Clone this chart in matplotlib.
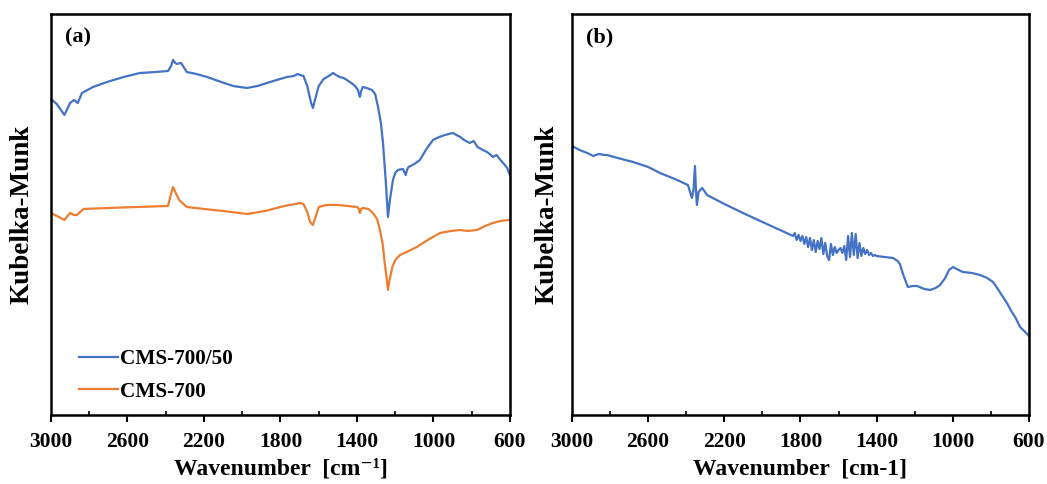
import matplotlib.pyplot as plt

plt.rcParams['font.family'] = ['Liberation Serif', 'DejaVu Serif']
plt.rcParams['font.weight'] = 'bold'

# panel (a), CMS-700/50
wn_a50 = [3000, 2970, 2930, 2900, 2880, 2860, 2838, 2780, 2707, 2620,
          2535, 2450, 2388, 2372, 2362, 2350, 2342, 2320, 2290, 2240,
          2184, 2110, 2048, 1975, 1920, 1871, 1820, 1766, 1730, 1710,
          1698, 1680, 1660, 1640, 1630, 1620, 1600, 1575, 1556, 1540,
          1525, 1510, 1490, 1470, 1453, 1430, 1410, 1395, 1385, 1378,
          1370, 1350, 1322, 1305, 1290, 1275, 1264, 1250, 1238, 1228,
          1212, 1200, 1186, 1160, 1145, 1139, 1130, 1100, 1071, 1040,
          1003, 970, 940, 920, 898, 880, 860, 840, 811, 790,
          770, 742, 720, 700, 690, 670, 650, 627, 615, 605,
          600]
km_a50 = [316, 311, 300, 312, 315, 312, 322, 328, 333, 338,
          342, 343, 344, 349, 355, 352, 351, 352, 343, 341,
          338, 333, 329, 327, 329, 332, 335, 338, 339, 341,
          340, 339, 329, 312, 307, 315, 329, 336, 338, 340,
          342, 340, 338, 337, 335, 332, 329, 325, 318, 324,
          328, 327, 325, 321, 308, 292, 272, 235, 198, 215,
          235, 242, 245, 246, 240, 245, 248, 251, 255, 265,
          275, 278, 280, 281, 282, 280, 278, 275, 272, 274,
          268, 265, 263, 260, 258, 260, 255, 250, 247, 242,
          240]

# panel (a), CMS-700
wn_a = [3000, 2970, 2930, 2900, 2880, 2865, 2830, 2700, 2550, 2388,
        2375, 2362, 2350, 2330, 2290, 2200, 2100, 1975, 1880, 1780,
        1720, 1698, 1680, 1660, 1645, 1630, 1615, 1600, 1560, 1500,
        1450, 1400, 1390, 1385, 1378, 1370, 1340, 1317, 1295, 1280,
        1265, 1255, 1245, 1238, 1230, 1215, 1200, 1175, 1140, 1087,
        1030, 966, 910, 862, 820, 773, 730, 690, 650, 605,
        600]
km_a = [202, 199, 195, 202, 200, 200, 206, 207, 208, 209,
        219, 228, 223, 215, 208, 206, 204, 201, 204, 209,
        211, 212, 211, 203, 193, 190, 199, 208, 210, 210,
        209, 208, 206, 202, 206, 207, 206, 202, 196, 185,
        170, 152, 137, 125, 135, 148, 155, 160, 163, 168,
        175, 182, 184, 185, 184, 185, 189, 192, 194, 195,
        196]

# panel (b)
wn_b = [3000, 2960, 2920, 2888, 2860, 2830, 2816, 2760, 2679, 2600,
        2538, 2460, 2391, 2380, 2370, 2362, 2354, 2349, 2344, 2335,
        2317, 2305, 2291, 2200, 2102, 2000, 1908, 1850, 1840, 1830,
        1820, 1810, 1800, 1790, 1780, 1770, 1760, 1750, 1740, 1730,
        1720, 1710, 1700, 1690, 1680, 1670, 1660, 1650, 1640, 1630,
        1620, 1610, 1600, 1590, 1580, 1570, 1560, 1550, 1540, 1530,
        1520, 1510, 1500, 1490, 1480, 1470, 1460, 1450, 1440, 1430,
        1420, 1410, 1400, 1360, 1314, 1290, 1278, 1260, 1236, 1210,
        1188, 1150, 1120, 1090, 1067, 1040, 1020, 999, 980, 947,
        900, 857, 820, 789, 760, 740, 716, 690, 670, 647,
        625, 610, 600]
km_b = [269, 265, 262, 259, 261, 260, 260, 257, 253, 248,
        242, 236, 230, 223, 217, 225, 249, 225, 210, 223,
        227, 224, 220, 211, 202, 193, 185, 180, 179, 182,
        175, 180, 174, 179, 171, 178, 168, 177, 165, 175,
        163, 174, 166, 177, 161, 172, 159, 155, 171, 160,
        168, 162, 165, 167, 162, 169, 155, 179, 158, 182,
        160, 181, 157, 172, 159, 167, 161, 165, 160, 162,
        159, 160, 159, 158, 157, 154, 151, 140, 128, 129,
        129, 126, 125, 127, 130, 137, 145, 148, 146, 143,
        142, 140, 137, 133, 125, 119, 112, 103, 97, 88,
        84, 81, 79]

major_ticks = [3000, 2600, 2200, 1800, 1400, 1000, 600]
minor_ticks = [2800, 2400, 2000, 1600, 1200, 800]

blue = '#4472C4'
orange = '#ED7D31'

fig = plt.figure(figsize=(10.47, 4.84), dpi=100)
ax1 = fig.add_axes([0.0487, 0.1426, 0.4384, 0.8285])
ax2 = fig.add_axes([0.5463, 0.1426, 0.4365, 0.8285])

ax1.plot(wn_a50, km_a50, color=blue, lw=1.6, label='CMS-700/50')
ax1.plot(wn_a, km_a, color=orange, lw=1.6, label='CMS-700')
ax2.plot(wn_b, km_b, color=blue, lw=1.6)

for ax, tag, xl, ypad in [(ax1, '(a)', 'Wavenumber  [cm\u207b\u00b9]', 12),
                          (ax2, '(b)', 'Wavenumber  [cm-1]', 9)]:
    ax.set_xlim(3000, 600)
    ax.set_ylim(0, 401)
    ax.set_xticks(major_ticks)
    ax.set_xticks(minor_ticks, minor=True)
    ax.tick_params(axis='x', which='major', direction='out', length=5,
                   width=1.5, labelsize=15.5, pad=7)
    ax.tick_params(axis='x', which='minor', direction='in', length=3, width=1.2)
    ax.set_yticks([])
    for s in ax.spines.values():
        s.set_linewidth(1.8)
    ax.set_xlabel(xl, fontsize=17, fontweight='bold', labelpad=5)
    ax.set_ylabel('Kubelka-Munk', fontsize=19.5, fontweight='bold', labelpad=ypad)
    ax.text(0.03, 0.942, tag, transform=ax.transAxes, fontsize=16,
            fontweight='bold', va='center', ha='left')

ax1.legend(loc='lower left', bbox_to_anchor=(0.02, -0.015), frameon=False,
           prop={'size': 15.3, 'weight': 'bold'}, handlelength=1.8,
           handletextpad=0.1, labelspacing=0.59)

fig.savefig('out.png', dpi=100)
